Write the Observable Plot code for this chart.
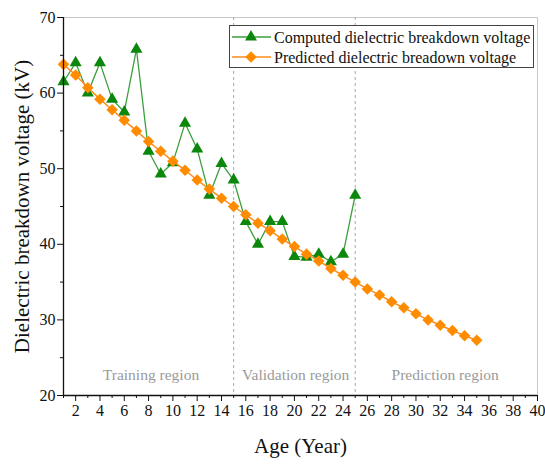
<!DOCTYPE html>
<html>
<head>
<meta charset="utf-8">
<script src="https://cdn.jsdelivr.net/npm/d3@7"></script>
<script src="https://cdn.jsdelivr.net/npm/@observablehq/plot@0.6"></script>
<style>
  html, body { margin: 0; padding: 0; background: #fff; }
</style>
</head>
<body>
<div id="chart"></div>
<script>
const computedAges = [1,2,3,4,5,6,7,8,9,10,11,12,13,14,15,16,17,18,19,20,21,22,23,24,25];
const computedVoltage = [61.5,64.0,60.0,64.0,59.2,57.5,65.8,52.3,49.3,50.8,56.0,52.6,46.5,50.7,48.5,43.0,40.0,43.0,43.0,38.4,38.3,38.7,37.7,38.7,46.5];

const predictedAges = [1,2,3,4,5,6,7,8,9,10,11,12,13,14,15,16,17,18,19,20,21,22,23,24,25,26,27,28,29,30,31,32,33,34,35];
const predictedVoltage = [63.8,62.4,60.7,59.2,57.8,56.4,55.0,53.6,52.3,51.0,49.8,48.5,47.3,46.1,45.0,43.9,42.8,41.8,40.7,39.7,38.7,37.8,36.8,35.9,35.0,34.1,33.3,32.4,31.6,30.8,30.0,29.3,28.6,27.9,27.3];

const regionBounds = [15, 25];
const regionNames = ["Training region", "Validation region", "Prediction region"];
const regionCenters = [8.2, 20.1, 32.4];
const regionLabelY = 22.7;

const xMajorTicks = d3.range(2, 41, 2);
const xMinorTicks = d3.range(1, 40, 2);
const yMajorTicks = [20, 30, 40, 50, 60, 70];
const yMinorTicks = [25, 35, 45, 55, 65];

const seriesNames = ["Computed dielectric breakdown voltage", "Predicted dielectric breadown voltage"];
const xLabel = "Age (Year)";
const yLabel = "Dielectric breakdown voltage (kV)";

const GREEN_LINE = "#3c9e3c";
const GREEN_MARK = "#0b870b";
const ORANGE_LINE = "#ff8c1a";
const ORANGE_MARK = "#ff8c00";

const computed = computedAges.map((a, i) => ({age: a, v: computedVoltage[i]}));
const predicted = predictedAges.map((a, i) => ({age: a, v: predictedVoltage[i]}));
const regions = regionNames.map((n, i) => ({name: n, x: regionCenters[i], y: regionLabelY}));

function legendMark(index, scales, values, dim) {
  const g = d3.create("svg:g");
  const x0 = 229, y0 = 25, w = 304, h = 42;
  g.append("rect").attr("x", x0 + 0.5).attr("y", y0 + 0.5).attr("width", w).attr("height", h)
    .attr("fill", "white").attr("stroke", "#444").attr("stroke-width", 1);
  const rows = [
    {name: seriesNames[0], line: GREEN_LINE, mark: GREEN_MARK, sym: d3.symbolTriangle, size: 62, rot: 0},
    {name: seriesNames[1], line: ORANGE_LINE, mark: ORANGE_MARK, sym: d3.symbolSquare, size: 66, rot: 45}
  ];
  rows.forEach((r, i) => {
    const cy = y0 + 12 + i * 20;
    g.append("line").attr("x1", x0 + 3).attr("x2", x0 + 42).attr("y1", cy).attr("y2", cy)
      .attr("stroke", r.line).attr("stroke-width", 1.3);
    g.append("path").attr("d", d3.symbol(r.sym, r.size)())
      .attr("transform", `translate(${x0 + 22},${cy}) rotate(${r.rot})`)
      .attr("fill", r.mark);
    g.append("text").attr("x", x0 + 45).attr("y", cy).attr("dy", "0.35em")
      .attr("text-anchor", "start")
      .attr("font-size", 16).attr("fill", "#111").text(r.name);
  });
  return g.node();
}

const chart = Plot.plot({
  width: 545,
  height: 470,
  marginLeft: 63,
  marginRight: 8,
  marginTop: 17,
  marginBottom: 75,
  style: {fontFamily: "'Liberation Serif', 'Times New Roman', serif", fontSize: "16px", color: "#111", background: "#fff"},
  x: {domain: [1, 40], axis: null},
  y: {domain: [20, 70], axis: null},
  marks: [
    Plot.ruleY([70], {stroke: "#c8c8c8", strokeWidth: 1}),
    Plot.ruleX([40], {stroke: "#c8c8c8", strokeWidth: 1}),
    Plot.ruleX(regionBounds, {stroke: "#a8a8a8", strokeWidth: 1, strokeDasharray: "3,3"}),
    Plot.text(regions, {x: "x", y: "y", text: "name", fill: "#9a9a9a", fontSize: 15.5}),
    Plot.line(computed, {x: "age", y: "v", stroke: GREEN_LINE, strokeWidth: 1.3}),
    Plot.dot(computed, {x: "age", y: "v", symbol: "triangle", r: 4.5, fill: GREEN_MARK, stroke: null}),
    Plot.line(predicted, {x: "age", y: "v", stroke: ORANGE_LINE, strokeWidth: 1.5}),
    Plot.dot(predicted, {x: "age", y: "v", symbol: "square", rotate: 45, r: 4.6, fill: ORANGE_MARK, stroke: null}),
    Plot.axisY({ticks: yMajorTicks, tickSize: 6, tickPadding: 2, label: null, fontSize: 16, tickFormat: d => String(d)}),
    Plot.axisY({ticks: yMinorTicks, tickSize: 3, text: null, label: null}),
    Plot.axisX({ticks: xMajorTicks, tickSize: 6, tickPadding: 3, label: null, fontSize: 16, tickFormat: d => String(d)}),
    Plot.axisX({ticks: xMinorTicks, tickSize: 3, text: null, label: null}),
    Plot.ruleX([1], {stroke: "#111", strokeWidth: 1.3}),
    Plot.ruleY([20], {stroke: "#111", strokeWidth: 1.3}),
    Plot.text([xLabel], {frameAnchor: "bottom", dy: 57, fontSize: 21, fill: "#111"}),
    Plot.text([yLabel], {frameAnchor: "left", textAnchor: "middle", dx: -41, rotate: -90, fontSize: 21, fill: "#111"}),
    legendMark
  ]
});
document.getElementById("chart").appendChild(chart);
</script>
</body>
</html>
